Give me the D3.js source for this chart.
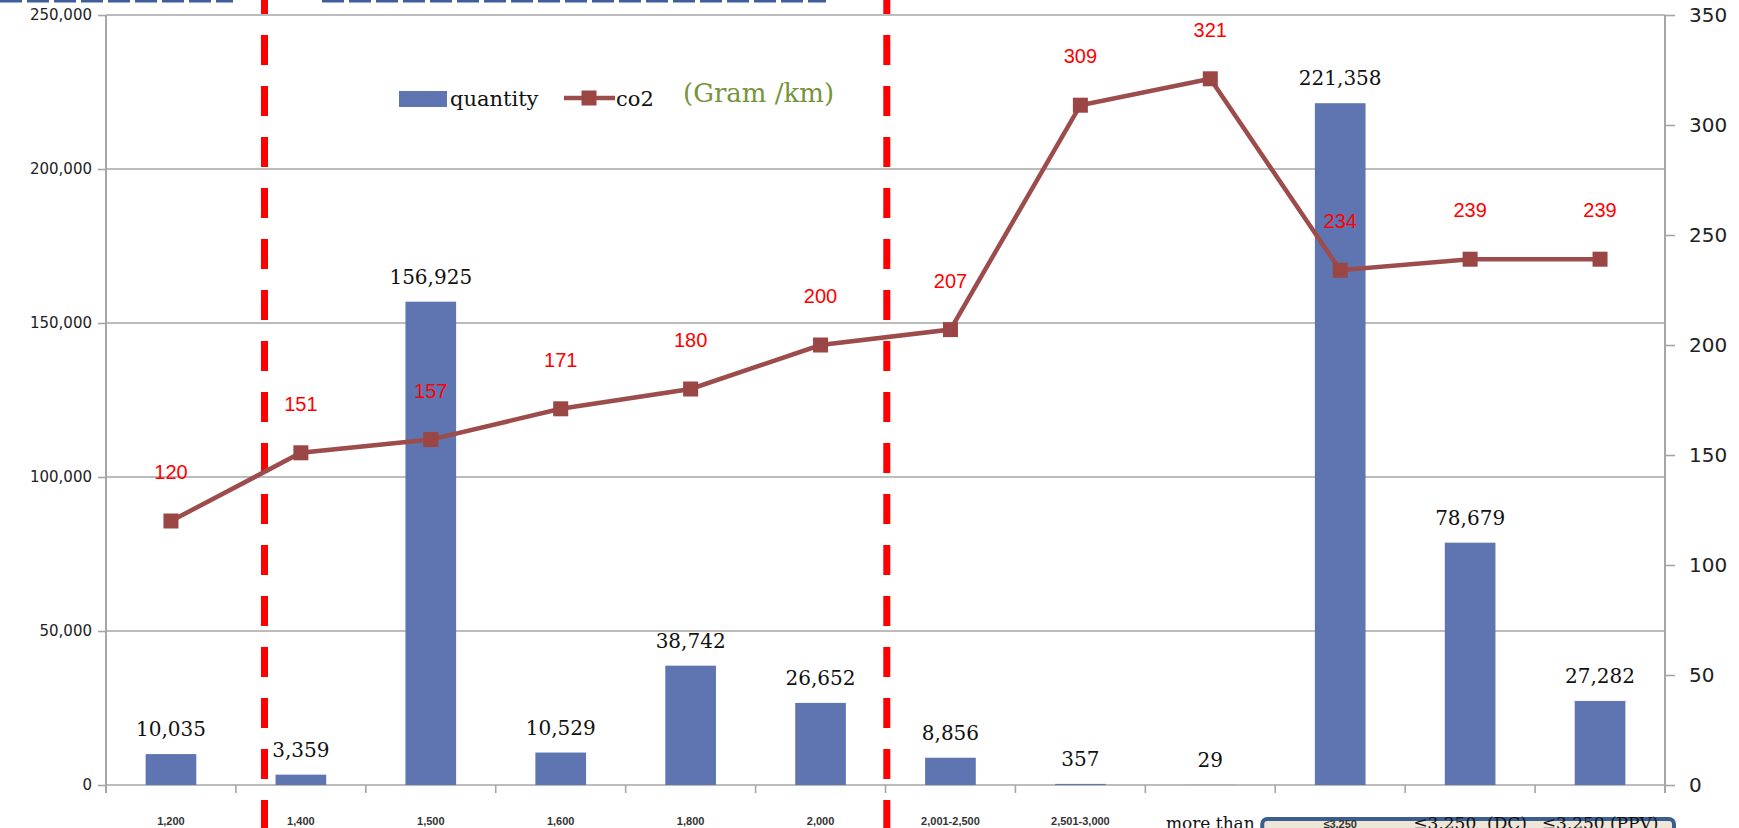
<!DOCTYPE html>
<html>
<head>
<meta charset="utf-8">
<script src="https://cdn.jsdelivr.net/npm/d3@7"></script>
<style>
  html, body { margin: 0; padding: 0; background: #fff; }
  svg { display: block; }
</style>
</head>
<body>
<svg id="chart" width="1739" height="828"></svg>
<script>
// Engine displacement classes (cc)
const categories = ["1,200", "1,400", "1,500", "1,600", "1,800", "2,000",
  "2,001-2,500", "2,501-3,000", "more than", "≤3,250", "≤3,250  (DC)", "≤3,250 (PPV)"];
// Number of vehicles per class
const quantity = [10035, 3359, 156925, 10529, 38742, 26652, 8856, 357, 29, 221358, 78679, 27282];
// CO2 emission, gram per km
const co2 = [120, 151, 157, 171, 180, 200, 207, 309, 321, 234, 239, 239];
// Axis ticks
const leftTicks = [0, 50000, 100000, 150000, 200000, 250000];
const rightTicks = [0, 50, 100, 150, 200, 250, 300, 350];
// Group dividers, in category units along the x axis
const dividers = [1.22, 6.01];

const W = 1739, H = 828;
const m = { top: 15, right: 74, bottom: 43, left: 106 };
const x0 = m.left, x1 = W - m.right, yTop = m.top, yBot = H - m.bottom;

const svg = d3.select("#chart");

const x = d3.scaleBand().domain(categories).range([x0, x1]).padding(0);
const xu = d3.scaleLinear().domain([0, categories.length]).range([x0, x1]);
const yL = d3.scaleLinear().domain([0, 250000]).range([yBot, yTop]);
const yR = d3.scaleLinear().domain([0, 350]).range([yBot, yTop]);

const barColor = "#5e75b2";
const lineColor = "#9c4c4a";
const gridColor = "#a6a6a6";

// Blue dashed rule along the very top edge
const topRule = [[0, 233], [322, 826]];
svg.append("g").selectAll("line").data(topRule).join("line")
  .attr("x1", d => d[0]).attr("x2", d => d[1])
  .attr("y1", 1).attr("y2", 1)
  .attr("stroke", "#3f5f9c").attr("stroke-width", 3)
  .attr("stroke-dasharray", "22,5");

// Horizontal gridlines (left axis)
svg.append("g").selectAll("line").data(leftTicks).join("line")
  .attr("x1", x0).attr("x2", x1)
  .attr("y1", d => yL(d)).attr("y2", d => yL(d))
  .attr("stroke", gridColor).attr("stroke-width", 1.6);

// Left axis
const leftAxis = d3.axisLeft(yL).tickValues(leftTicks).tickSize(8).tickPadding(6)
  .tickFormat(d3.format(","));
const gl = svg.append("g").attr("transform", `translate(${x0},0)`).call(leftAxis);
gl.select(".domain").attr("stroke", gridColor).attr("stroke-width", 2)
  .attr("d", `M0,${yTop}V${yBot + 8}`);
gl.selectAll(".tick line").attr("stroke", gridColor).attr("stroke-width", 1.6);
gl.selectAll(".tick text").attr("font-family", "DejaVu Sans").attr("font-size", 15)
  .attr("fill", "#222");

// Right axis
const rightAxis = d3.axisRight(yR).tickValues(rightTicks).tickSize(10).tickPadding(14);
const gr = svg.append("g").attr("transform", `translate(${x1},0)`).call(rightAxis);
gr.select(".domain").attr("stroke", gridColor).attr("stroke-width", 2)
  .attr("d", `M0,${yTop}V${yBot + 8}`);
gr.selectAll(".tick line").attr("stroke", gridColor).attr("stroke-width", 1.6);
gr.selectAll(".tick text").attr("font-family", "DejaVu Sans").attr("font-size", 20)
  .attr("fill", "#222");

// Category ticks below the base line, at the band boundaries
const bounds = d3.range(1, categories.length + 1);
svg.append("g").selectAll("line").data(bounds).join("line")
  .attr("x1", d => xu(d)).attr("x2", d => xu(d))
  .attr("y1", yBot).attr("y2", yBot + 8)
  .attr("stroke", gridColor).attr("stroke-width", 1.6);

// Bars
const bw = x.bandwidth() * 0.39;
svg.append("g").selectAll("rect").data(quantity).join("rect")
  .attr("x", (d, i) => x(categories[i]) + (x.bandwidth() - bw) / 2)
  .attr("width", bw)
  .attr("y", d => yL(d))
  .attr("height", d => yBot - yL(d))
  .attr("fill", barColor);

// Bar value labels
svg.append("g").selectAll("text").data(quantity).join("text")
  .attr("x", (d, i) => x(categories[i]) + x.bandwidth() / 2)
  .attr("y", d => yL(d) - 18)
  .attr("text-anchor", "middle")
  .attr("font-family", "DejaVu Serif").attr("font-size", 20)
  .attr("fill", "#111")
  .text(d => d3.format(",")(d));

// Red group dividers
svg.append("g").selectAll("line").data(dividers).join("line")
  .attr("x1", d => xu(d)).attr("x2", d => xu(d))
  .attr("y1", 0).attr("y2", H)
  .attr("stroke", "#ff0000").attr("stroke-width", 7)
  .attr("stroke-dasharray", "30,21").attr("stroke-dashoffset", 16);

// CO2 line with square markers
const line = d3.line()
  .x((d, i) => x(categories[i]) + x.bandwidth() / 2)
  .y(d => yR(d));
svg.append("path").datum(co2)
  .attr("d", line).attr("fill", "none")
  .attr("stroke", lineColor).attr("stroke-width", 4.5);
const ms = 15;
svg.append("g").selectAll("rect").data(co2).join("rect")
  .attr("x", (d, i) => x(categories[i]) + x.bandwidth() / 2 - ms / 2)
  .attr("y", d => yR(d) - ms / 2)
  .attr("width", ms).attr("height", ms)
  .attr("fill", "#9a4644");

// CO2 value labels
svg.append("g").selectAll("text").data(co2).join("text")
  .attr("x", (d, i) => x(categories[i]) + x.bandwidth() / 2)
  .attr("y", d => yR(d) - 42)
  .attr("text-anchor", "middle")
  .attr("font-family", "Liberation Sans").attr("font-size", 20)
  .attr("fill", "#ff0000")
  .text(d => d);

// Box behind the last three category names
svg.append("rect")
  .attr("x", xu(9) - 13).attr("y", 819)
  .attr("width", xu(12) - xu(9) + 22).attr("height", 24)
  .attr("rx", 5)
  .attr("fill", "#ece7d6").attr("stroke", "#3c5e8e").attr("stroke-width", 4);

// Category names
const catText = svg.append("g").selectAll("text").data(categories).join("text")
  .attr("x", d => x(d) + x.bandwidth() / 2)
  .attr("text-anchor", "middle")
  .text(d => d);
catText.each(function (d, i) {
  const t = d3.select(this);
  if (i < 8 || i === 9) {
    t.attr("y", i === 9 ? 828 : 825)
      .attr("font-family", "Liberation Sans").attr("font-weight", "bold")
      .attr("font-size", 11).attr("fill", "#333");
  } else {
    t.attr("y", 829)
      .attr("font-family", "DejaVu Serif").attr("font-size", 17)
      .attr("fill", "#111").style("white-space", "pre");
  }
});

// Legend
const lg = svg.append("g");
lg.append("rect").attr("x", 399).attr("y", 91).attr("width", 48).attr("height", 16)
  .attr("fill", barColor);
lg.append("text").attr("x", 450).attr("y", 106)
  .attr("font-family", "DejaVu Serif").attr("font-size", 21).attr("fill", "#111")
  .text("quantity");
lg.append("line").attr("x1", 564).attr("x2", 615).attr("y1", 98).attr("y2", 98)
  .attr("stroke", lineColor).attr("stroke-width", 4.5);
lg.append("rect").attr("x", 589 - ms / 2).attr("y", 98 - ms / 2)
  .attr("width", ms).attr("height", ms).attr("fill", "#9a4644");
lg.append("text").attr("x", 616).attr("y", 106)
  .attr("font-family", "DejaVu Serif").attr("font-size", 21).attr("fill", "#111")
  .text("co2");

// Unit note
svg.append("text").attr("x", 683).attr("y", 102)
  .attr("font-family", "DejaVu Serif").attr("font-size", 26).attr("fill", "#77933c")
  .text("(Gram /km)");
</script>
</body>
</html>
